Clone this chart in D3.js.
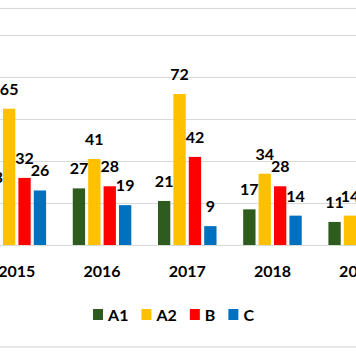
<!DOCTYPE html>
<html>
<head>
<meta charset="utf-8">
<script src="https://cdn.jsdelivr.net/npm/d3@7"></script>
<style>
  html, body { margin: 0; padding: 0; background: #fff; }
  svg { display: block; }
</style>
</head>
<body>
<svg id="chart" width="356" height="364"></svg>
<script>
const years = ["2015", "2016", "2017", "2018", "2019"];
const seriesNames = ["A1", "A2", "B", "C"];
const A1 = [23, 27, 21, 17, 11];
const A2 = [65, 41, 72, 34, 14];
const B  = [32, 28, 42, 28, 9];
const C  = [26, 19, 9, 14, 6];
const yTicks = [0, 20, 40, 60, 80, 100];
const colors = ["#2E5B1E", "#FFC000", "#FF0000", "#0070C0"];

const seriesValues = [A1, A2, B, C];
const data = years.map((yr, i) => ({
  year: yr,
  values: seriesNames.map((s, j) => ({ key: s, value: seriesValues[j][i], color: colors[j] }))
}));

const W = 356, H = 364;
const svg = d3.select("#chart");
const font = "Lato, 'Open Sans', 'Liberation Sans', sans-serif";

// chart border
svg.append("rect")
  .attr("x", -1).attr("y", 8.5).attr("width", W + 2).attr("height", 338.5)
  .attr("fill", "none").attr("stroke", "#d9d9d9").attr("stroke-width", 1.2);

const x0 = d3.scaleBand().domain(years).range([-39.1, 413.6]).paddingInner(0.313).paddingOuter(0.313);
const x1 = d3.scaleBand().domain(seriesNames).range([0, x0.bandwidth()]).paddingInner(0.2);
const y = d3.scaleLinear().domain([0, 100]).range([245, 35.3]);

// gridlines
svg.append("g").selectAll("line").data(yTicks).join("line")
  .attr("x1", 0).attr("x2", W)
  .attr("y1", d => Math.round(y(d)) + 0.5).attr("y2", d => Math.round(y(d)) + 0.5)
  .attr("stroke", "#d9d9d9").attr("stroke-width", 1.2);

const groups = svg.append("g").selectAll("g").data(data).join("g")
  .attr("transform", d => `translate(${x0(d.year)},0)`);

groups.selectAll("rect").data(d => d.values).join("rect")
  .attr("x", d => x1(d.key))
  .attr("y", d => y(d.value))
  .attr("width", x1.bandwidth())
  .attr("height", d => y(0) - y(d.value))
  .attr("fill", d => d.color);

groups.selectAll("text.lbl").data(d => d.values).join("text")
  .attr("class", "lbl")
  .attr("x", d => x1(d.key) + x1.bandwidth() / 2)
  .attr("y", d => y(d.value) - 14)
  .attr("text-anchor", "middle")
  .attr("font-family", font).attr("font-weight", "bold").attr("font-size", "16px")
  .attr("fill", "#000")
  .text(d => d.value);

// x axis labels
const xAxis = d3.axisBottom(x0).tickSize(0).tickPadding(0);
const gx = svg.append("g").attr("transform", "translate(0,245)").call(xAxis);
gx.select(".domain").remove();
gx.selectAll("text")
  .attr("y", 32).attr("dy", null)
  .attr("font-family", font).attr("font-weight", "bold").attr("font-size", "16px")
  .attr("fill", "#000");

// legend
const leg = svg.append("g");
let cx = 0;
seriesNames.forEach((s, i) => {
  const g = leg.append("g");
  g.append("rect").attr("x", 0).attr("y", 309).attr("width", 10).attr("height", 11).attr("fill", colors[i]);
  const t = g.append("text").attr("x", 15).attr("y", 321)
    .attr("font-family", font).attr("font-weight", "bold").attr("font-size", "16px")
    .attr("fill", "#000").text(s);
  const w = 15 + t.node().getComputedTextLength();
  g.attr("transform", `translate(${cx},0)`);
  cx += w + 13;
});
const totalW = cx - 13;
leg.attr("transform", `translate(${173.5 - totalW / 2},0)`);
</script>
</body>
</html>
